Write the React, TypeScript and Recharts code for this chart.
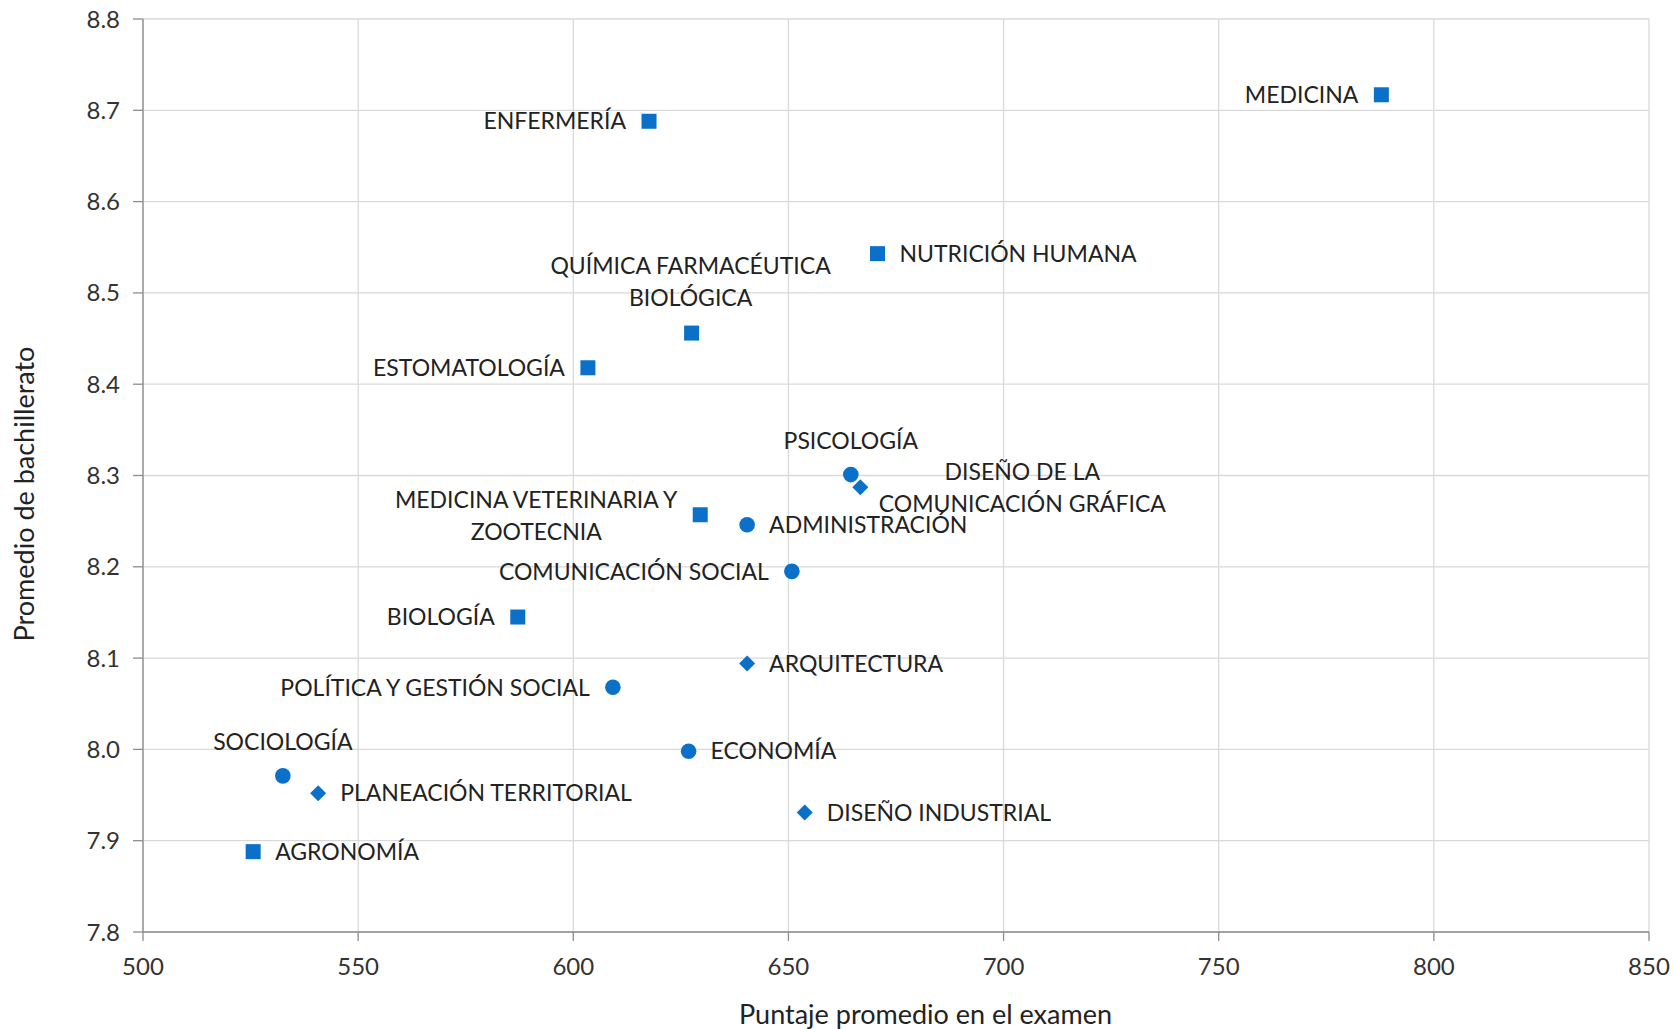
import React from "react";
import {
  ScatterChart,
  Scatter,
  XAxis,
  YAxis,
  CartesianGrid,
  Label,
} from "recharts";

// Ciencias de la salud / biológicas (cuadrados)
const healthNames = [
  "MEDICINA",
  "ENFERMERÍA",
  "NUTRICIÓN HUMANA",
  "QUÍMICA FARMACÉUTICA\nBIOLÓGICA",
  "ESTOMATOLOGÍA",
  "MEDICINA VETERINARIA Y\nZOOTECNIA",
  "BIOLOGÍA",
  "AGRONOMÍA",
];
const healthScore = [787.8, 617.6, 670.7, 627.5, 603.4, 629.5, 587.1, 525.6];
const healthGpa = [8.717, 8.688, 8.543, 8.456, 8.418, 8.257, 8.145, 7.888];

// Ciencias sociales (círculos)
const socialNames = [
  "PSICOLOGÍA",
  "ADMINISTRACIÓN",
  "COMUNICACIÓN SOCIAL",
  "POLÍTICA Y GESTIÓN SOCIAL",
  "ECONOMÍA",
  "SOCIOLOGÍA",
];
const socialScore = [664.5, 640.4, 650.8, 609.2, 626.8, 532.5];
const socialGpa = [8.301, 8.246, 8.195, 8.068, 7.998, 7.971];

// Artes y diseño (rombos)
const designNames = [
  "DISEÑO DE LA\nCOMUNICACIÓN GRÁFICA",
  "ARQUITECTURA",
  "PLANEACIÓN TERRITORIAL",
  "DISEÑO INDUSTRIAL",
];
const designScore = [666.7, 640.4, 540.7, 653.8];
const designGpa = [8.287, 8.094, 7.952, 7.931];

const xTicks = [500, 550, 600, 650, 700, 750, 800, 850];
const yTicks = [7.8, 7.9, 8.0, 8.1, 8.2, 8.3, 8.4, 8.5, 8.6, 8.7, 8.8];

const FONT = "Lato, 'Open Sans', sans-serif";
const BLUE = "#0A70CA";
const TEXT = "#222";

type Place = { anchor: "start" | "end" | "middle"; dx: number; dy: number };

// where each label sits relative to its marker
const labelPlace: Record<string, Place> = {
  "QUÍMICA FARMACÉUTICA\nBIOLÓGICA": { anchor: "middle", dx: -1, dy: -67 },
  "MEDICINA VETERINARIA Y\nZOOTECNIA": { anchor: "middle", dx: -164, dy: -15 },
  "DISEÑO DE LA\nCOMUNICACIÓN GRÁFICA": { anchor: "middle", dx: 162, dy: -16 },
  PSICOLOGÍA: { anchor: "middle", dx: 0, dy: -34 },
  SOCIOLOGÍA: { anchor: "middle", dx: 0, dy: -34 },
  "NUTRICIÓN HUMANA": { anchor: "start", dx: 22, dy: 0 },
  AGRONOMÍA: { anchor: "start", dx: 22, dy: 0 },
  ADMINISTRACIÓN: { anchor: "start", dx: 22, dy: 0 },
  ECONOMÍA: { anchor: "start", dx: 22, dy: 0 },
  ARQUITECTURA: { anchor: "start", dx: 22, dy: 0 },
  "PLANEACIÓN TERRITORIAL": { anchor: "start", dx: 22, dy: 0 },
  "DISEÑO INDUSTRIAL": { anchor: "start", dx: 22, dy: 0 },
};
const defaultPlace: Place = { anchor: "end", dx: -23, dy: 0 };

const toPoints = (names: string[], xs: number[], ys: number[]) =>
  names.map((name, i) => ({ name, x: xs[i], y: ys[i] }));

const healthData = toPoints(healthNames, healthScore, healthGpa);
const socialData = toPoints(socialNames, socialScore, socialGpa);
const designData = toPoints(designNames, designScore, designGpa);

function PointLabel({ cx, cy, name }: { cx: number; cy: number; name: string }) {
  const p = labelPlace[name] || defaultPlace;
  const lines = name.split("\n");
  return (
    <text textAnchor={p.anchor} fontSize={23} fontFamily={FONT} fill={TEXT}>
      {lines.map((ln, i) => (
        <tspan key={i} x={cx + p.dx} y={cy + p.dy + i * 32 + 8.2}>
          {ln}
        </tspan>
      ))}
    </text>
  );
}

const makeShape = (kind: "square" | "circle" | "diamond") => (props: any) => {
  const { cx, cy, payload } = props;
  if (cx == null || cy == null) return <g />;
  let mark;
  if (kind === "square") {
    mark = <rect x={cx - 7.5} y={cy - 7.5} width={15} height={15} fill={BLUE} />;
  } else if (kind === "circle") {
    mark = <circle cx={cx} cy={cy} r={7.8} fill={BLUE} />;
  } else {
    mark = (
      <polygon
        points={`${cx},${cy - 8} ${cx + 8},${cy} ${cx},${cy + 8} ${cx - 8},${cy}`}
        fill={BLUE}
      />
    );
  }
  return (
    <g>
      {mark}
      <PointLabel cx={cx} cy={cy} name={payload.name} />
    </g>
  );
};

const tickStyle = { fontSize: 24, fill: "#333", fontFamily: FONT };

export default function App() {
  return (
    <>
      <style>{"body{margin:0}"}</style>
      <ScatterChart
        width={1674}
        height={1029}
        margin={{ top: 19, right: 25, bottom: 0, left: 0 }}
        style={{ fontFamily: FONT }}
      >
        <CartesianGrid stroke="#d9d9d9" strokeWidth={1.3} />
        <XAxis
          type="number"
          dataKey="x"
          domain={[500, 850]}
          ticks={xTicks}
          height={97}
          tick={tickStyle}
          tickSize={9}
          tickMargin={17}
          stroke="#8c8c8c"
          strokeWidth={1.3}
          allowDataOverflow
        >
          <Label
            content={(props: any) => {
              const vb = props.viewBox || { x: 143, y: 932, width: 1506 };
              return (
                <text
                  x={vb.x + vb.width / 2 + 29.5}
                  y={vb.y + 82 + 9.5}
                  textAnchor="middle"
                  fontSize={27}
                  fontFamily={FONT}
                  fill={TEXT}
                >
                  Puntaje promedio en el examen
                </text>
              );
            }}
          />
        </XAxis>
        <YAxis
          type="number"
          dataKey="y"
          domain={[7.8, 8.8]}
          ticks={yTicks}
          tickFormatter={(v: number) => v.toFixed(1)}
          width={143}
          tick={tickStyle}
          tickSize={10}
          tickMargin={13}
          stroke="#8c8c8c"
          strokeWidth={1.3}
          allowDataOverflow
        >
          <Label
            content={(props: any) => {
              const vb = props.viewBox || { x: 0, y: 19, height: 913 };
              const cx = vb.x + 23.5;
              const cy = vb.y + vb.height / 2 + 18.5;
              return (
                <text
                  x={cx}
                  y={cy}
                  transform={`rotate(-90, ${cx}, ${cy})`}
                  textAnchor="middle"
                  dominantBaseline="central"
                  fontSize={27}
                  fontFamily={FONT}
                  fill={TEXT}
                >
                  Promedio de bachillerato
                </text>
              );
            }}
          />
        </YAxis>
        <Scatter data={healthData} shape={makeShape("square")} isAnimationActive={false} />
        <Scatter data={socialData} shape={makeShape("circle")} isAnimationActive={false} />
        <Scatter data={designData} shape={makeShape("diamond")} isAnimationActive={false} />
      </ScatterChart>
    </>
  );
}
